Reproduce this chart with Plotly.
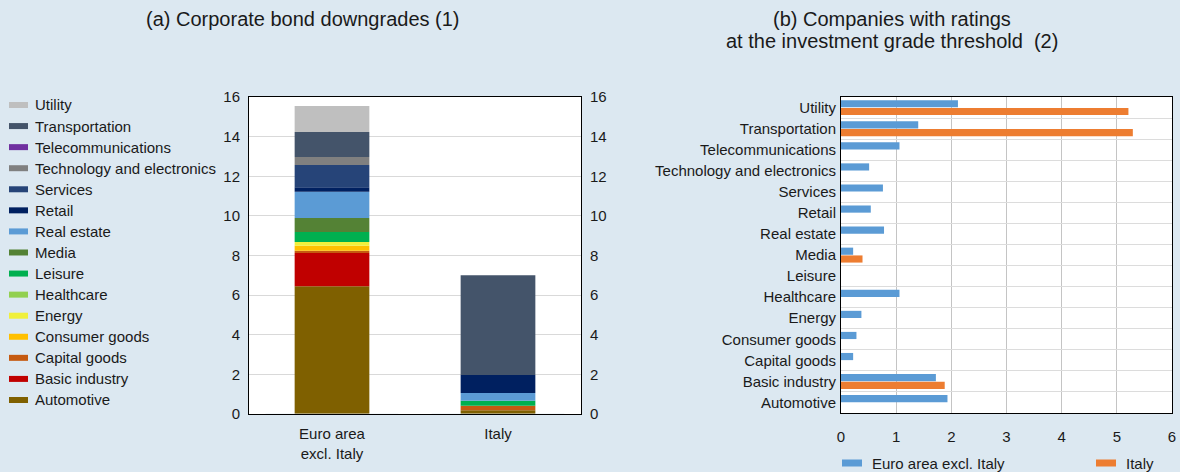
import plotly.graph_objects as go

# ---------------- data ----------------
sectors = ["Automotive", "Basic industry", "Capital goods", "Consumer goods", "Energy",
           "Healthcare", "Leisure", "Media", "Real estate", "Retail", "Services",
           "Technology and electronics", "Telecommunications", "Transportation", "Utility"]
sector_colors = ["#7F6000", "#C00000", "#C55A11", "#FFC000", "#F0F03C",
                 "#92D050", "#00B050", "#548235", "#5B9BD5", "#002060", "#264478",
                 "#808080", "#7030A0", "#44546A", "#BFBFBF"]

# panel (a): corporate bond downgrades
areas_a = ["Euro area<br>excl. Italy", "Italy"]
downgrades_euro = [6.45, 1.67, 0.12, 0.25, 0.19, 0.0, 0.50, 0.71, 1.33, 0.22, 1.13, 0.40, 0.0, 1.26, 1.31]
downgrades_italy = [0.19, 0.0, 0.23, 0.0, 0.0, 0.0, 0.25, 0.0, 0.39, 0.91, 0.0, 0.0, 0.0, 5.03, 0.0]

# panel (b): companies at the investment grade threshold
threshold_euro = [1.93, 1.72, 0.22, 0.28, 0.37, 1.06, 0.0, 0.22, 0.78, 0.54, 0.76, 0.51, 1.06, 1.40, 2.12]
threshold_italy = [0.0, 1.88, 0.0, 0.0, 0.0, 0.0, 0.0, 0.39, 0.0, 0.0, 0.0, 0.0, 0.0, 5.29, 5.21]
series_b = ["Euro area excl. Italy", "Italy"]
series_b_colors = ["#5B9BD5", "#ED7D31"]

left_ticks = [0, 2, 4, 6, 8, 10, 12, 14, 16]
right_ticks = [0, 1, 2, 3, 4, 5, 6]

# ---------------- figure ----------------
W, H = 1180, 472
BG = "#DCE8F1"
FONT = "Liberation Sans, Arial, sans-serif"
TXT = "#1A1A1A"
FS = 15

def px(x):
    return x / W

def py(y):
    return 1 - y / H

fig = go.Figure()

# stacked bars of panel (a): cumulative base computed from the data
base_e, base_i = 0.0, 0.0
for i, s in enumerate(sectors):
    fig.add_trace(go.Bar(
        x=areas_a, y=[downgrades_euro[i], downgrades_italy[i]], base=[base_e, base_i], name=s,
        marker=dict(color=sector_colors[i], line=dict(width=0)),
        xaxis="x", yaxis="y", width=0.45, showlegend=False,
    ))
    base_e += downgrades_euro[i]
    base_i += downgrades_italy[i]

offsets_b = [-0.35, 0.02]
for j, (name, vals) in enumerate([(series_b[0], threshold_euro), (series_b[1], threshold_italy)]):
    fig.add_trace(go.Bar(
        y=sectors, x=vals, orientation="h", name=name,
        marker=dict(color=series_b_colors[j], line=dict(width=0)),
        width=0.34, offset=offsets_b[j],
        xaxis="x3", yaxis="y3", showlegend=False,
    ))

# invisible trace so the right-hand axis of panel (a) renders
fig.add_trace(go.Bar(x=areas_a, y=[0, 0], xaxis="x", yaxis="y2", showlegend=False,
                     hoverinfo="skip", marker=dict(color="rgba(0,0,0,0)")))

axis_common = dict(showline=True, linecolor="#000000", linewidth=1, mirror=True,
                   tickfont=dict(size=FS, color=TXT, family=FONT), ticks="")

fig.update_layout(
    width=W, height=H,
    paper_bgcolor=BG, plot_bgcolor="#FFFFFF",
    margin=dict(l=0, r=0, t=0, b=0, autoexpand=False),
    font=dict(family=FONT, size=FS, color=TXT),
    barmode="overlay",
    showlegend=False,
    xaxis=dict(domain=[px(249), px(581)], anchor="y", showgrid=False,
               ticklabelstandoff=6, **axis_common),
    yaxis=dict(domain=[py(414), py(97)], anchor="x", range=[0, 16],
               tickvals=left_ticks, showgrid=True, gridcolor="#D9D9D9", gridwidth=1,
               zeroline=False, ticklabelstandoff=5, **axis_common),
    yaxis2=dict(overlaying="y", side="right", anchor="x", range=[0, 16],
                tickvals=left_ticks, showgrid=False, zeroline=False,
                ticklabelstandoff=8,
                tickfont=dict(size=FS, color=TXT, family=FONT), ticks="", showline=False),
    xaxis3=dict(domain=[px(841), px(1172)], anchor="y3", range=[0, 6],
                tickvals=right_ticks, showgrid=True, gridcolor="#C4C4C4", gridwidth=1,
                zeroline=False, ticklabelstandoff=10, **axis_common),
    yaxis3=dict(domain=[py(413), py(97)], anchor="x3", type="category",
                categoryorder="array", categoryarray=sectors[::-1],
                autorange="reversed", tickson="boundaries",
                showgrid=True, gridcolor="#DCDCDC", gridwidth=1,
                ticklabelstandoff=1, **axis_common),
)

# ---- legend of panel (a): drawn as marker rectangles + text
legend_top, legend_step = 105, 21.07
for k, idx in enumerate(range(len(sectors) - 1, -1, -1)):
    yc = legend_top + k * legend_step
    fig.add_shape(type="rect", xref="paper", yref="paper",
                  x0=px(9), x1=px(28), y0=py(yc + 3), y1=py(yc - 3),
                  fillcolor=sector_colors[idx], line=dict(width=0))
    fig.add_annotation(text=sectors[idx], x=px(33), y=py(yc), xref="paper", yref="paper",
                       xanchor="left", yanchor="middle", showarrow=False,
                       font=dict(size=FS, color=TXT, family=FONT))

# ---- legend of panel (b)
leg_b_x = [842, 1096]
leg_b_y = 463
for j, name in enumerate(series_b):
    fig.add_shape(type="rect", xref="paper", yref="paper",
                  x0=px(leg_b_x[j]), x1=px(leg_b_x[j] + 20),
                  y0=py(leg_b_y + 3.5), y1=py(leg_b_y - 3.5),
                  fillcolor=series_b_colors[j], line=dict(width=0))
    fig.add_annotation(text=name, x=px(leg_b_x[j] + 28), y=py(leg_b_y), xref="paper", yref="paper",
                       xanchor="left", yanchor="middle", showarrow=False,
                       font=dict(size=FS, color=TXT, family=FONT))

# ---- panel titles
fig.add_annotation(text="(a) Corporate bond downgrades (1)", x=px(303), y=py(19),
                   xref="paper", yref="paper", xanchor="center", yanchor="middle",
                   showarrow=False, font=dict(size=20, color=TXT, family=FONT))
for line, yline in [("(b) Companies with ratings", 19), ("at the investment grade threshold  (2)", 41)]:
    fig.add_annotation(text=line, x=px(892), y=py(yline),
                       xref="paper", yref="paper", xanchor="center", yanchor="middle",
                       showarrow=False, font=dict(size=20, color=TXT, family=FONT))

fig.write_html("out.html", config={"displayModeBar": False},
               post_script="document.body.style.margin='0';")
